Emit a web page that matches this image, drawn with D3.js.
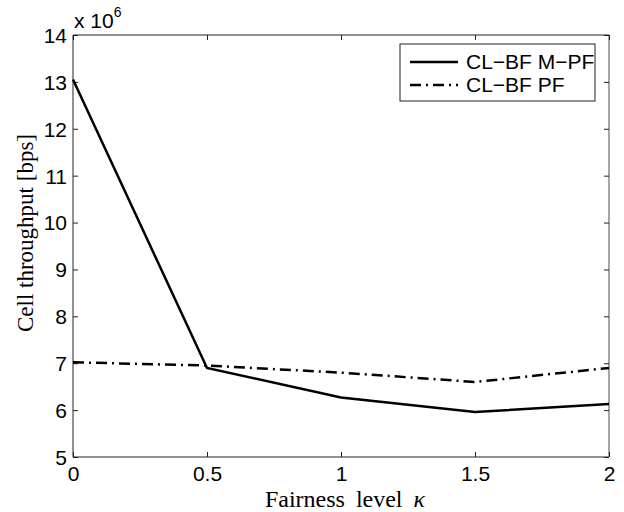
<!DOCTYPE html>
<html>
<head>
<meta charset="utf-8">
<script src="https://cdn.jsdelivr.net/npm/d3@7"></script>
<style>
	body { margin: 0; background: #fff; }
	svg { display: block; }
</style>
</head>
<body>
<div id="chart"></div>
<script>
// values (throughput in units of 10^6 bps)
var kappa = [0, 0.5, 1, 1.5, 2];
var mpf = [13.05, 6.9, 6.27, 5.96, 6.13];
var pf = [7.02, 6.95, 6.8, 6.6, 6.9];
var seriesNames = ["CL\u2212BF M\u2212PF", "CL\u2212BF PF"];
var xTicks = [0, 0.5, 1, 1.5, 2];
var yTicks = [5, 6, 7, 8, 9, 10, 11, 12, 13, 14];

var W = 624, H = 512;
var m = {left: 73, right: 15, top: 35, bottom: 55};

var svg = d3.select("#chart").append("svg")
	.attr("width", W)
	.attr("height", H);

var x = d3.scaleLinear().domain([0, 2]).range([m.left, W - m.right]);
var y = d3.scaleLinear().domain([5, 14]).range([H - m.bottom, m.top]);

var tickFont = "Liberation Sans, Arial, sans-serif";
var labelFont = "Liberation Serif, Times New Roman, serif";

// frame (right edge looks lighter in the original)
svg.append("path")
	.attr("d", "M" + x(2) + "," + y(14) + "H" + x(0) + "V" + y(5) + "H" + x(2))
	.attr("fill", "none").attr("stroke", "#222").attr("stroke-width", 1);
svg.append("line")
	.attr("x1", x(2)).attr("x2", x(2)).attr("y1", y(14)).attr("y2", y(5))
	.attr("stroke", "#888").attr("stroke-width", 1.5);

// axes with inward ticks
var xb = svg.append("g").attr("transform", "translate(0," + y(5) + ")")
	.call(d3.axisBottom(x).tickValues(xTicks).tickSizeInner(-5).tickSizeOuter(0).tickPadding(9).tickFormat(d3.format("")));
var xt = svg.append("g").attr("transform", "translate(0," + y(14) + ")")
	.call(d3.axisTop(x).tickValues(xTicks).tickSizeInner(-5).tickSizeOuter(0).tickFormat(""));
var yl = svg.append("g").attr("transform", "translate(" + x(0) + ",0)")
	.call(d3.axisLeft(y).tickValues(yTicks).tickSizeInner(-5).tickSizeOuter(0).tickPadding(6));
var yr = svg.append("g").attr("transform", "translate(" + x(2) + ",0)")
	.call(d3.axisRight(y).tickValues(yTicks).tickSizeInner(-5).tickSizeOuter(0).tickFormat(""));

[xb, xt, yl, yr].forEach(function(g) {
	g.select(".domain").remove();
	g.selectAll("line").attr("stroke", "#222");
	g.selectAll("text")
		.attr("font-family", tickFont)
		.attr("font-size", "21px")
		.attr("fill", "#000");
});
yl.selectAll("text").attr("dy", "0.35em");

// exponent
var ex = svg.append("text")
	.attr("x", x(0) + 1).attr("y", y(14) - 7)
	.attr("font-family", tickFont).attr("font-size", "21px");
ex.append("tspan").text("x 10");
ex.append("tspan").attr("dy", -11).attr("font-size", "14px").text("6");

// lines
var line = d3.line()
	.x(function(d) { return x(d[0]); })
	.y(function(d) { return y(d[1]); });

svg.append("path")
	.attr("d", line(d3.zip(kappa, mpf)))
	.attr("fill", "none").attr("stroke", "#000").attr("stroke-width", 2.5);

svg.append("path")
	.attr("d", line(d3.zip(kappa, pf)))
	.attr("fill", "none").attr("stroke", "#000").attr("stroke-width", 2.5)
	.attr("stroke-dasharray", "11,5,2,5");

// axis labels
svg.append("text")
	.attr("x", 345).attr("y", 507)
	.attr("text-anchor", "middle")
	.attr("font-family", labelFont).attr("font-size", "24px")
	.attr("word-spacing", "5px")
	.html("Fairness level <tspan font-style='italic'>\u03BA</tspan>");

svg.append("text")
	.attr("transform", "translate(33,233) rotate(-90)")
	.attr("text-anchor", "middle")
	.attr("font-family", labelFont).attr("font-size", "23px")
	.text("Cell throughput [bps]");

// legend
var lg = svg.append("g");
lg.append("rect")
	.attr("x", 400).attr("y", 44).attr("width", 195).attr("height", 57)
	.attr("fill", "#fff").attr("stroke", "#222").attr("stroke-width", 1);
var dashes = [null, "11,5,2,5"];
seriesNames.forEach(function(name, i) {
	var ly = 62 + i * 23;
	lg.append("line")
		.attr("x1", 410).attr("x2", 458).attr("y1", ly).attr("y2", ly)
		.attr("stroke", "#000").attr("stroke-width", 2.5)
		.attr("stroke-dasharray", dashes[i]);
	lg.append("text")
		.attr("x", 466).attr("y", ly).attr("dy", "0.35em")
		.attr("font-family", tickFont).attr("font-size", "21px")
		.text(name);
});
</script>
</body>
</html>
